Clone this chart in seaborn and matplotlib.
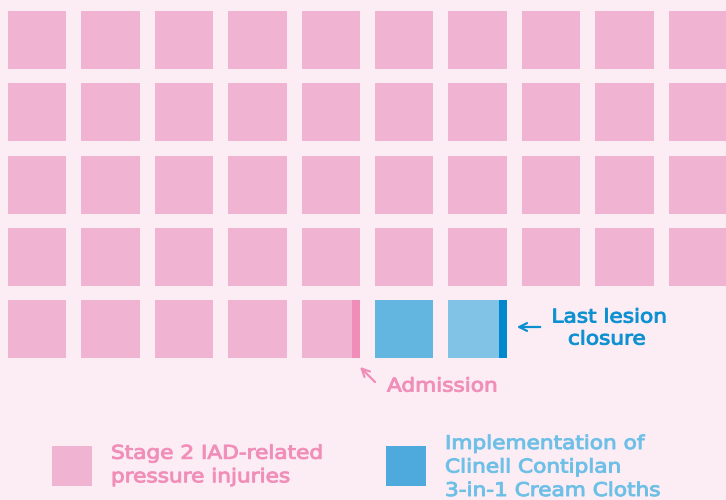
import seaborn as sns
import matplotlib.pyplot as plt
import matplotlib.patheffects as pe
from matplotlib.transforms import Affine2D
import pandas as pd

# waffle data: one square per cell, filled row by row
n_cols = 10
n_injury = 45          # stage 2 IAD-related pressure injuries
n_treatment = 1        # implementation of cream cloths
n_healing = 1          # after implementation, until closure
admission_cell = 44    # cell marked "Admission"
closure_cell = 46      # cell marked "Last lesion closure"

legend_labels = ["Stage 2 IAD-related\npressure injuries",
                 "Implementation of\nClinell Contiplan\n3-in-1 Cream Cloths"]

BG = "#fcedf5"
PINK = "#f0b4d2"
PINK_DARK = "#f08db8"
BLUE = "#62b6df"
BLUE_LIGHT = "#80c3e7"
BLUE_DARK = "#0088cc"
BLUE_LEGEND = "#4eaadc"
TEXT_PINK = "#f08db8"
TEXT_BLUE = "#0a8fd0"
TEXT_LBLUE = "#6cbfe6"

sns.set_theme(style="white")
plt.rcParams["font.family"] = ["DejaVu Sans"]

status = (["injury"] * n_injury + ["treatment"] * n_treatment
          + ["healing"] * n_healing)
cells = pd.DataFrame({"status": status})
cells["col"] = cells.index % n_cols
cells["row"] = cells.index // n_cols
colors = {"injury": PINK, "treatment": BLUE, "healing": BLUE_LIGHT}

fig = plt.figure(figsize=(7.26, 5), dpi=100, facecolor=BG)
ax = fig.add_axes([0, 0, 1, 1])
ax.set_facecolor(BG)

# pixel geometry of the grid
pitch_x, pitch_y = 73.4, 72.25
x0, y0 = 37.2, 40.0
sq_w, sq_h = 58.4 / pitch_x, 58.0 / pitch_y
ax.set_xlim(-x0 / pitch_x, (726 - x0) / pitch_x)
ax.set_ylim((500 - y0) / pitch_y, -y0 / pitch_y)


def px(x, y):
    return (x - x0) / pitch_x, (y - y0) / pitch_y


for status_name, grp in cells.groupby("status"):
    ax.bar(grp["col"], sq_h, width=sq_w, bottom=grp["row"] - sq_h / 2,
           color=colors[status_name], linewidth=0)

# stripes on the right edge of the marked cells
stripe_w = 8 / pitch_x
for cell, col in [(admission_cell, PINK_DARK), (closure_cell, BLUE_DARK)]:
    c = cells.loc[cell]
    ax.bar(c["col"] + sq_w / 2 - stripe_w / 2, sq_h, width=stripe_w,
           bottom=c["row"] - sq_h / 2, color=col, linewidth=0)


class WideText(pe.AbstractPathEffect):
    """Stretch glyphs horizontally (the original uses a wide geometric font)."""

    def __init__(self, sx, lw):
        super().__init__()
        self.sx = sx
        self.lw = lw

    def draw_path(self, renderer, gc, tpath, affine, rgbFace=None):
        gc0 = renderer.new_gc()
        gc0.copy_properties(gc)
        gc0.set_linewidth(self.lw)
        gc0.set_foreground(rgbFace)
        renderer.draw_path(gc0, tpath, Affine2D().scale(self.sx, 1) + affine,
                           rgbFace)
        gc0.restore()


FS = 13.6
SX = 1.145


def txt(x, y, s, color, spacing=1.2, **kw):
    t = ax.text(*px(x, y), s, color=color, fontsize=FS, va="center",
                linespacing=spacing, **kw)
    t.set_path_effects([WideText(SX, 0.7)])
    return t


# annotations
ax.annotate("", xy=px(358, 365), xytext=px(377, 384),
            arrowprops=dict(arrowstyle="->", color=PINK_DARK, lw=1.6,
                            mutation_scale=14))
txt(387, 386, "Admission", TEXT_PINK, ha="left")

ax.annotate("", xy=px(514, 327), xytext=px(543, 327),
            arrowprops=dict(arrowstyle="->", color=TEXT_BLUE, lw=1.6,
                            mutation_scale=14))
txt(602, 328, "Last lesion\nclosure", TEXT_BLUE, ha="center")

# legend
leg_w, leg_h = 40 / pitch_x, 40 / pitch_y
for (lx, col), label, tcol, (tx, ty) in zip(
        [(72, PINK), (406, BLUE_LEGEND)], legend_labels,
        [TEXT_PINK, TEXT_LBLUE], [(111, 465), (445, 467)]):
    cx, cy = px(lx, 466)
    ax.bar(cx, leg_h, width=leg_w, bottom=cy - leg_h / 2, color=col, linewidth=0)
    txt(tx, ty, label, tcol, spacing=1.3, ha="left")

ax.axis("off")
fig.savefig("out.png", dpi=100, facecolor=BG)
